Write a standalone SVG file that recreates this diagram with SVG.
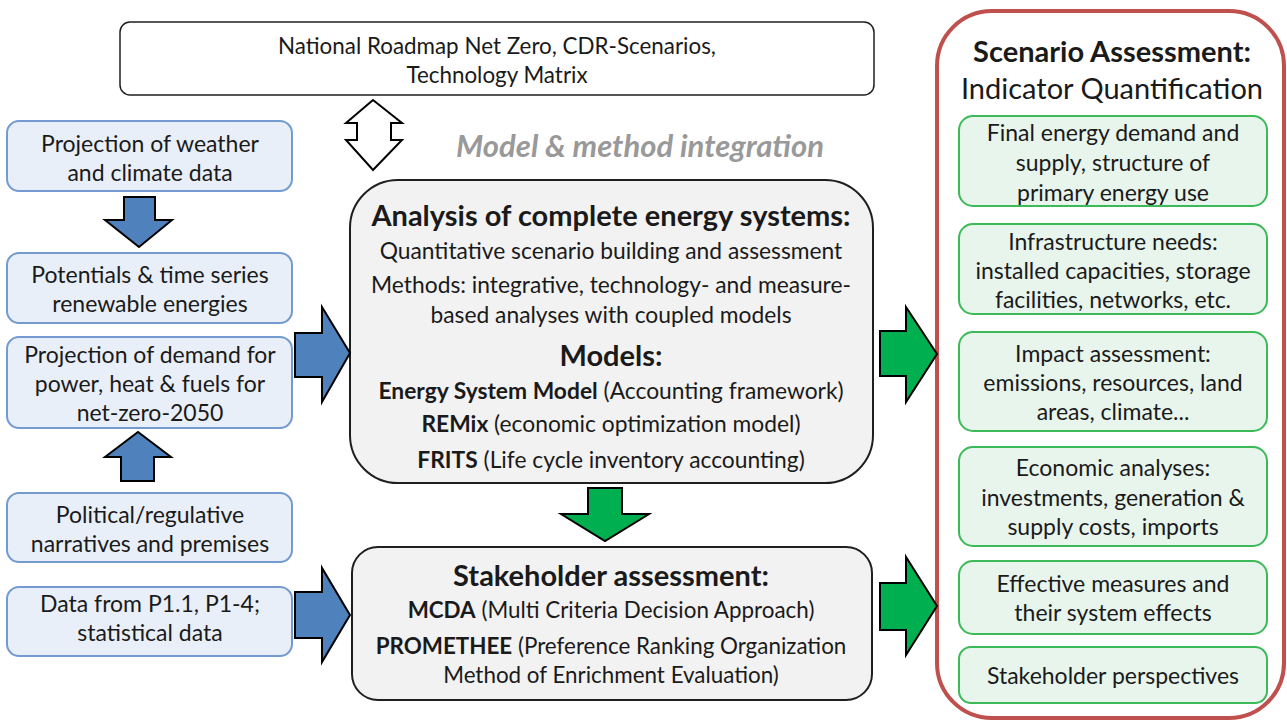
<svg xmlns="http://www.w3.org/2000/svg" width="1287" height="724" viewBox="0 0 1287 724">
<style>
text{font-family:Lato,"Liberation Sans",sans-serif;fill:#1a1a1a;text-anchor:middle;dominant-baseline:central}
.in{fill:#e9eff8;stroke:#739bd0;stroke-width:2}
.out{fill:#e8f5ec;stroke:#3dba58;stroke-width:2}
.core{fill:#f2f2f2;stroke:#1f1f1f;stroke-width:2}
.barrow{fill:#4f81bd;stroke:#000;stroke-width:2;stroke-linejoin:miter}
.garrow{fill:#00b050;stroke:#000;stroke-width:2;stroke-linejoin:miter}
.t20{font-size:23px}
.t19{font-size:22.8px}
.ts{font-size:22.4px}
.h{font-size:29px;font-weight:bold}
.b{font-weight:bold}
</style>
<rect x="0" y="0" width="1287" height="724" fill="#fff"/>

<g id="top">
<rect x="120" y="22" width="754" height="73" rx="10" fill="#fff" stroke="#1f1f1f" stroke-width="1.5"/>
<text x="497" y="45" class="ts">National Roadmap Net Zero, CDR-Scenarios,</text>
<text x="497" y="74" class="ts">Technology Matrix</text>
</g>

<g id="integration">
<text x="640" y="145" style="font-size:31px;font-weight:bold;font-style:italic;fill:#999">Model &amp; method integration</text>
</g>

<g id="in1"><rect class="in" x="7" y="121" width="285" height="70" rx="12"/>
<text x="150" y="143" class="t20">Projection of weather</text><text x="150" y="172" class="t20">and climate data</text></g>
<g id="in2"><rect class="in" x="7" y="253" width="285" height="70" rx="12"/>
<text x="150" y="274" class="t20">Potentials &amp; time series</text><text x="150" y="303" class="t20">renewable energies</text></g>
<g id="in3"><rect class="in" x="7" y="337" width="285" height="91" rx="12"/>
<text x="150" y="354" class="t20">Projection of demand for</text><text x="150" y="383" class="t20">power, heat &amp; fuels for</text><text x="150" y="412" class="t20">net-zero-2050</text></g>
<g id="in4"><rect class="in" x="7" y="493" width="285" height="69" rx="12"/>
<text x="150" y="514" class="t20">Political/regulative</text><text x="150" y="543" class="t20">narratives and premises</text></g>
<g id="in5"><rect class="in" x="7" y="587" width="285" height="69" rx="12"/>
<text x="150" y="603" class="t20">Data from P1.1, P1-4;</text><text x="150" y="632" class="t20">statistical data</text></g>

<g id="analysis">
<rect class="core" x="350" y="180" width="523" height="303" rx="48"/>
<text x="611" y="214" class="h">Analysis of complete energy systems:</text>
<text x="611" y="250" class="t19">Quantitative scenario building and assessment</text>
<text x="611" y="284" class="t19">Methods: integrative, technology- and measure-</text>
<text x="611" y="314" class="t19">based analyses with coupled models</text>
<text x="611" y="354" class="h">Models:</text>
<text x="611" y="390" class="t19"><tspan font-weight="bold">Energy System Model</tspan> (Accounting framework)</text>
<text x="611" y="423" class="t19"><tspan font-weight="bold">REMix</tspan> (economic optimization model)</text>
<text x="611" y="459" class="t19"><tspan font-weight="bold">FRITS</tspan> (Life cycle inventory accounting)</text>
</g>

<g id="stakeholder">
<rect class="core" x="352" y="547" width="520" height="153" rx="26"/>
<text x="611" y="574" class="h">Stakeholder assessment:</text>
<text x="611" y="609" class="ts"><tspan font-weight="bold">MCDA</tspan> (Multi Criteria Decision Approach)</text>
<text x="611" y="645" class="ts"><tspan font-weight="bold">PROMETHEE</tspan> (Preference Ranking Organization</text>
<text x="611" y="674" class="ts">Method of Enrichment Evaluation)</text>
</g>

<g id="assessment">
<rect x="937" y="11" width="347" height="707" rx="55" fill="#fff" stroke="#c0504d" stroke-width="4"/>
<text x="1112" y="50" class="h">Scenario Assessment:</text>
<text x="1112" y="87" style="font-size:29px">Indicator Quantification</text>
</g>
<g id="out1"><rect class="out" x="959" y="116" width="308" height="90" rx="14"/>
<text x="1113" y="132" class="t20">Final energy demand and</text><text x="1113" y="162" class="t20">supply, structure of</text><text x="1113" y="192" class="t20">primary energy use</text></g>
<g id="out2"><rect class="out" x="959" y="224" width="308" height="90" rx="14"/>
<text x="1113" y="241" class="t20">Infrastructure needs:</text><text x="1113" y="270" class="t20">installed capacities, storage</text><text x="1113" y="299" class="t20">facilities, networks, etc.</text></g>
<g id="out3"><rect class="out" x="959" y="332" width="308" height="99" rx="14"/>
<text x="1113" y="353" class="t20">Impact assessment:</text><text x="1113" y="382" class="t20">emissions, resources, land</text><text x="1113" y="411" class="t20">areas, climate...</text></g>
<g id="out4"><rect class="out" x="959" y="447" width="308" height="99" rx="14"/>
<text x="1113" y="467" class="t20">Economic analyses:</text><text x="1113" y="497" class="t20">investments, generation &amp;</text><text x="1113" y="526" class="t20">supply costs, imports</text></g>
<g id="out5"><rect class="out" x="959" y="561" width="308" height="73" rx="14"/>
<text x="1113" y="583" class="t20">Effective measures and</text><text x="1113" y="612" class="t20">their system effects</text></g>
<g id="out6"><rect class="out" x="959" y="647" width="308" height="56" rx="12"/>
<text x="1113" y="675" class="t20">Stakeholder perspectives</text></g>

<g id="connectors">
<polygon points="373,100 402,123 391,123 391,140 402,140 373,170 346,140 357,140 357,123 346,123" fill="#fff" stroke="#000" stroke-width="2"/>
<polygon class="barrow" points="124,197 155,197 155,220 172,220 139,247 105,220 124,220"/>
<polygon class="barrow" points="121,481 154,481 154,457 171,457 138,432 105,457 121,457"/>
<polygon class="barrow" points="295,333 322,333 322,307 350,353 322,402 322,377 295,377"/>
<polygon class="barrow" points="295,592 322,592 322,568 350,615 322,662 322,638 295,638"/>
<polygon class="garrow" points="588,488 622,488 622,514 649,514 605,541 561,514 588,514"/>
<polygon class="garrow" points="880,331 906,331 906,307 937,354 906,402 906,376 880,376"/>
<polygon class="garrow" points="880,583 906,583 906,557 937,606 906,655 906,630 880,630"/>
</g>
</svg>
